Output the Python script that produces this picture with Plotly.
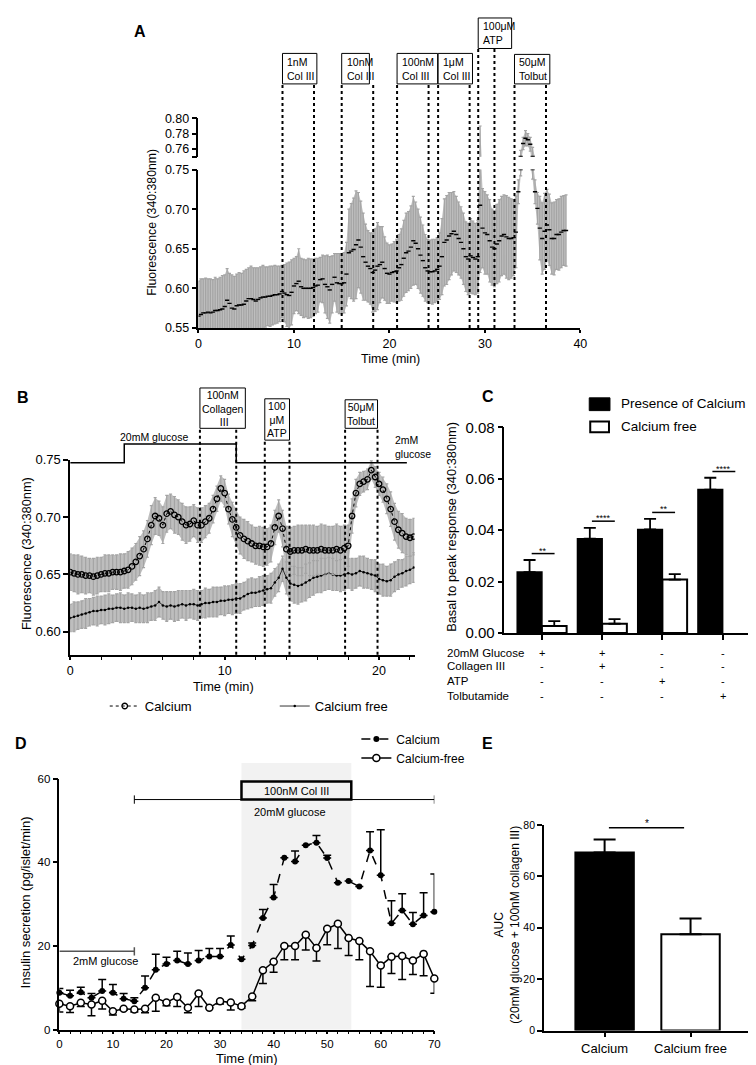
import numpy as np
import plotly.graph_objects as go

W, H = 756, 1065
FONT = "Liberation Sans, Arial, sans-serif"


def fx(px):
    return px / W


def fy(py):
    return 1 - py / H


# ---------------- data ----------------
# A: Fura-2 ratio, collagen III dose series (one reading every 0.25 min)
a_step = 0.25
a_mean = [
    0.565, 0.567, 0.569, 0.569, 0.570, 0.569, 0.570, 0.572,
    0.572, 0.573, 0.574, 0.577, 0.585, 0.581, 0.575, 0.574,
    0.578, 0.579, 0.579, 0.580, 0.584, 0.587, 0.587, 0.586,
    0.584, 0.586, 0.588, 0.589, 0.589, 0.590, 0.590, 0.591,
    0.592, 0.592, 0.593, 0.596, 0.594, 0.592, 0.591, 0.595,
    0.603, 0.606, 0.609, 0.602, 0.600, 0.600, 0.600, 0.600,
    0.601, 0.603, 0.604, 0.611, 0.612, 0.605, 0.602, 0.598,
    0.605, 0.614, 0.607, 0.606, 0.606, 0.607, 0.618, 0.645,
    0.647, 0.649, 0.655, 0.661, 0.652, 0.640, 0.633, 0.628,
    0.625, 0.620, 0.623, 0.628, 0.630, 0.633, 0.625, 0.619,
    0.618, 0.620, 0.621, 0.622, 0.626, 0.630, 0.638, 0.645,
    0.647, 0.652, 0.660, 0.657, 0.650, 0.642, 0.635, 0.626,
    0.622, 0.621, 0.621, 0.622, 0.624, 0.628, 0.640, 0.658,
    0.661, 0.666, 0.669, 0.672, 0.668, 0.663, 0.658, 0.650,
    0.640, 0.637, 0.641, 0.639, 0.637, 0.640, 0.705, 0.676,
    0.670, 0.668, 0.660, 0.652, 0.650, 0.656, 0.660, 0.666,
    0.668, 0.665, 0.663, 0.663, 0.664, 0.671, 0.722, 0.750,
    0.767, 0.774, 0.772, 0.766, 0.750, 0.722, 0.701, 0.676,
    0.663, 0.672, 0.680, 0.674, 0.663, 0.663, 0.668, 0.668,
    0.671, 0.673, 0.673,
]
a_err = [
    0.044, 0.045, 0.043, 0.044, 0.042, 0.043, 0.041, 0.042,
    0.040, 0.041, 0.042, 0.040, 0.040, 0.038, 0.042, 0.041,
    0.040, 0.041, 0.040, 0.042, 0.040, 0.039, 0.041, 0.040,
    0.042, 0.040, 0.039, 0.040, 0.038, 0.037, 0.038, 0.037,
    0.037, 0.036, 0.035, 0.033, 0.036, 0.040, 0.042, 0.041,
    0.035, 0.034, 0.041, 0.036, 0.037, 0.036, 0.038, 0.037,
    0.036, 0.035, 0.034, 0.028, 0.030, 0.036, 0.040, 0.042,
    0.036, 0.030, 0.037, 0.038, 0.038, 0.038, 0.040, 0.055,
    0.060, 0.065, 0.068, 0.060, 0.058, 0.055, 0.048, 0.045,
    0.045, 0.050, 0.052, 0.055, 0.048, 0.045, 0.040, 0.038,
    0.037, 0.036, 0.038, 0.040, 0.042, 0.045, 0.048, 0.050,
    0.050, 0.052, 0.056, 0.052, 0.050, 0.048, 0.045, 0.042,
    0.040, 0.040, 0.041, 0.040, 0.040, 0.042, 0.048, 0.055,
    0.056, 0.055, 0.052, 0.050, 0.048, 0.046, 0.045, 0.045,
    0.044, 0.045, 0.047, 0.046, 0.045, 0.046, 0.085, 0.050,
    0.052, 0.050, 0.052, 0.048, 0.048, 0.050, 0.052, 0.050,
    0.050, 0.052, 0.052, 0.050, 0.048, 0.045, 0.015, 0.008,
    0.008, 0.010, 0.008, 0.009, 0.012, 0.015, 0.020, 0.040,
    0.045, 0.048, 0.045, 0.045, 0.045, 0.046, 0.044, 0.045,
    0.045, 0.044, 0.045,
]
a_time = np.arange(len(a_mean)) * a_step
a_event_names = ["1nM<br>Col III", "10nM<br>Col III", "100nM<br>Col III",
                 "1μM<br>Col III", "100μM<br>ATP", "50μM<br>Tolbut"]
a_event_on = [8.8, 15.0, 20.8, 25.1, 29.3, 33.1]
a_event_off = [12.1, 18.3, 24.1, 28.4, 31.0, 36.4]

# B: calcium vs calcium free (one reading every 0.25 min)
b_step = 0.25
b_ca_mean = [
    0.652, 0.651, 0.650, 0.650, 0.649, 0.649, 0.648, 0.649,
    0.650, 0.651, 0.651, 0.652, 0.652, 0.652, 0.653, 0.654,
    0.657, 0.661, 0.666, 0.672, 0.681, 0.693, 0.701, 0.699,
    0.693, 0.703, 0.705, 0.702, 0.700, 0.696, 0.693, 0.694,
    0.697, 0.693, 0.693, 0.696, 0.699, 0.707, 0.716, 0.725,
    0.721, 0.707, 0.698, 0.691, 0.684, 0.681, 0.679, 0.677,
    0.675, 0.675, 0.674, 0.674, 0.677, 0.691, 0.701, 0.690,
    0.672, 0.670, 0.671, 0.671, 0.671, 0.672, 0.671, 0.671,
    0.671, 0.672, 0.671, 0.671, 0.671, 0.672, 0.671, 0.673,
    0.675, 0.701, 0.721, 0.729, 0.731, 0.733, 0.741, 0.735,
    0.729, 0.724, 0.716, 0.707, 0.696, 0.689, 0.686, 0.683,
    0.682, 0.683,
]
b_ca_err = [
    0.016, 0.016, 0.017, 0.016, 0.016, 0.015, 0.016, 0.016,
    0.015, 0.016, 0.016, 0.015, 0.015, 0.016, 0.015, 0.016,
    0.016, 0.016, 0.017, 0.016, 0.016, 0.017, 0.016, 0.015,
    0.016, 0.016, 0.015, 0.016, 0.015, 0.016, 0.016, 0.015,
    0.014, 0.015, 0.015, 0.014, 0.013, 0.012, 0.011, 0.011,
    0.012, 0.013, 0.015, 0.016, 0.016, 0.017, 0.017, 0.016,
    0.016, 0.017, 0.017, 0.016, 0.016, 0.015, 0.014, 0.016,
    0.020, 0.021, 0.021, 0.022, 0.022, 0.021, 0.022, 0.022,
    0.021, 0.022, 0.022, 0.021, 0.021, 0.022, 0.021, 0.020,
    0.018, 0.015, 0.012, 0.010, 0.009, 0.009, 0.008, 0.009,
    0.010, 0.011, 0.013, 0.015, 0.016, 0.016, 0.017, 0.016,
    0.016, 0.016,
]
b_free_mean = [
    0.612, 0.613, 0.614, 0.615, 0.616, 0.617, 0.618, 0.618,
    0.619, 0.619, 0.620, 0.620, 0.621, 0.621, 0.620, 0.621,
    0.621, 0.620, 0.621, 0.620, 0.621, 0.622, 0.623, 0.626,
    0.623, 0.622, 0.623, 0.622, 0.623, 0.624, 0.623, 0.624,
    0.624, 0.623, 0.624, 0.625, 0.625, 0.626, 0.626, 0.627,
    0.627, 0.628, 0.628, 0.629, 0.629, 0.631, 0.633, 0.634,
    0.634, 0.635, 0.636, 0.637, 0.638, 0.643, 0.647, 0.655,
    0.647, 0.642, 0.641, 0.640, 0.641, 0.643, 0.645, 0.647,
    0.648, 0.649, 0.650, 0.651, 0.650, 0.649, 0.649, 0.650,
    0.651, 0.650, 0.651, 0.653, 0.652, 0.651, 0.650, 0.649,
    0.646, 0.645, 0.644, 0.645, 0.648, 0.650, 0.651, 0.653,
    0.654, 0.656,
]
b_free_err = [
    0.012, 0.013, 0.012, 0.012, 0.013, 0.012, 0.012, 0.013,
    0.012, 0.013, 0.013, 0.012, 0.012, 0.013, 0.012, 0.013,
    0.012, 0.012, 0.013, 0.012, 0.013, 0.012, 0.013, 0.013,
    0.012, 0.013, 0.012, 0.013, 0.013, 0.012, 0.013, 0.012,
    0.013, 0.013, 0.012, 0.013, 0.012, 0.013, 0.013, 0.012,
    0.013, 0.012, 0.013, 0.013, 0.013, 0.012, 0.013, 0.013,
    0.012, 0.013, 0.013, 0.012, 0.013, 0.012, 0.012, 0.011,
    0.014, 0.015, 0.016, 0.016, 0.015, 0.016, 0.015, 0.015,
    0.014, 0.015, 0.014, 0.014, 0.014, 0.013, 0.014, 0.014,
    0.013, 0.014, 0.013, 0.013, 0.014, 0.013, 0.013, 0.014,
    0.013, 0.014, 0.013, 0.014, 0.013, 0.013, 0.012, 0.013,
    0.012, 0.013,
]
b_time = np.arange(len(b_ca_mean)) * b_step
b_glucose_t = [0, 3.5, 10.75, 21.8]
b_event_names = ["100nM<br>Collagen<br> III", "100<br>μM<br>ATP", "50μM<br>Tolbut"]
b_event_on = [8.4, 12.6, 17.8]
b_event_off = [10.75, 14.2, 19.9]

# C: basal to peak response
c_groups = ["Glucose", "Glucose + Collagen III", "ATP", "Tolbutamide"]
c_ca_mean = [0.0237, 0.0367, 0.0403, 0.0558]
c_ca_err = [0.0047, 0.0042, 0.0041, 0.0046]
c_free_mean = [0.0027, 0.0036, 0.0208, None]
c_free_err = [0.0019, 0.0018, 0.0021, None]
c_sig = ["**", "****", "**", "****"]
c_sig_y = [0.0309, 0.0435, 0.0469, 0.0628]
c_rows = ["20mM Glucose", "Collagen III", "ATP", "Tolbutamide"]
c_table = [["+", "+", "-", "-"],
           ["-", "+", "-", "-"],
           ["-", "-", "+", "-"],
           ["-", "-", "-", "+"]]

# D: insulin secretion
d_time = list(range(0, 71, 2))
d_ca_mean = [8.8, 8.1, 8.9, 7.6, 9.2, 8.8, 7.4, 6.8, 10.0, 14.3, 15.7, 16.5,
             15.7, 16.5, 17.5, 17.5, 20.2, 16.8, 20.1, 26.7, 31.6, 41.1, 40.2, 44.1,
             44.7, 41.0, 35.1, 35.5, 34.2, 42.8, 36.9, 25.4, 28.5, 25.2, 27.3, 28.2]
d_ca_err = [1.0, 1.3, 1.2, 1.0, 2.8, 2.0, 1.2, 0.8, 2.8, 3.7, 1.6, 2.2,
            2.6, 2.4, 1.9, 1.9, 2.2, 0.0, 0.6, 2.0, 3.1, 0.0, 2.5, 0.0,
            1.7, 0.7, 0.0, 0.0, 0.0, 4.5, 10.9, 5.4, 4.0, 2.8, 5.4, 9.0]
d_free_mean = [6.2, 5.6, 6.4, 6.0, 6.9, 4.4, 5.0, 4.8, 5.0, 7.6, 6.5, 7.8,
               5.2, 8.6, 5.2, 6.8, 6.5, 5.6, 7.9, 14.2, 16.2, 20.0, 20.0, 22.7,
               19.5, 24.1, 25.3, 21.9, 21.2, 18.7, 15.3, 17.4, 17.6, 16.5, 18.1, 12.2]
d_free_err = [2.0, 1.5, 0.9, 2.7, 2.0, 0.9, 0.4, 0.6, 1.0, 3.2, 0.8, 2.3,
              1.2, 3.1, 0.0, 0.7, 1.8, 0.5, 1.0, 3.2, 2.5, 3.3, 3.3, 3.7,
              3.1, 3.8, 5.9, 4.2, 4.5, 8.4, 5.2, 4.0, 5.6, 3.3, 5.2, 3.5]
d_col_window = [34, 54.5]
d_glc20_window = [14, 70]
d_glc2_window = [0, 14]

# E: AUC
e_groups = ["Calcium", "Calcium free"]
e_mean = [69.3, 37.5]
e_err = [5.0, 6.1]

# ---------------- figure ----------------
fig = go.Figure()
BAND = "#bebebe"
ERRC = "#a4a4a4"


def band(x, mean, err, xa, ya):
    m, e = np.array(mean, dtype=float), np.array(err, dtype=float)
    fig.add_trace(go.Scatter(x=x, y=m - e, mode="lines", line=dict(width=0),
                             xaxis=xa, yaxis=ya, showlegend=False, hoverinfo="skip"))
    fig.add_trace(go.Scatter(x=x, y=m + e, mode="lines", line=dict(width=0),
                             fill="tonexty", fillcolor=BAND,
                             xaxis=xa, yaxis=ya, showlegend=False, hoverinfo="skip"))


# A (drawn on both halves of the broken axis)
for yax in ["y", "y2"]:
    band(a_time, a_mean, a_err, "x", yax)
    fig.add_trace(go.Scatter(
        x=a_time, y=a_mean, mode="markers", xaxis="x", yaxis=yax,
        marker=dict(symbol="line-ew", size=3, color="black",
                    line=dict(width=1.4, color="black")),
        error_y=dict(type="data", array=a_err, color=ERRC, thickness=1.2, width=1.5),
        showlegend=False, hoverinfo="skip"))

# B
band(b_time, b_free_mean, b_free_err, "x3", "y3")
band(b_time, b_ca_mean, b_ca_err, "x3", "y3")
fig.add_trace(go.Scatter(
    x=b_time, y=b_free_mean, name="Calcium free", mode="lines+markers",
    xaxis="x3", yaxis="y3", legend="legend", legendrank=2,
    line=dict(color="black", width=0.8),
    marker=dict(symbol="circle", size=2.5, color="black"),
    error_y=dict(type="data", array=b_free_err, color=ERRC, thickness=1.2, width=1.5)))
fig.add_trace(go.Scatter(
    x=b_time, y=b_ca_mean, name="Calcium", mode="lines+markers",
    xaxis="x3", yaxis="y3", legend="legend", legendrank=1,
    line=dict(color="black", width=1, dash="dot"),
    marker=dict(symbol="circle-open", size=5.5, color="black", line=dict(width=1.3)),
    error_y=dict(type="data", array=b_ca_err, color=ERRC, thickness=1.2, width=1.5)))

# C
fig.add_trace(go.Bar(
    x=c_groups, y=c_ca_mean, xaxis="x4", yaxis="y4", width=0.41, offset=-0.41,
    marker=dict(color="black", line=dict(color="black", width=1.5)),
    error_y=dict(type="data", array=c_ca_err, arrayminus=[0] * 4, color="black",
                 thickness=1.8, width=6),
    showlegend=False))
fig.add_trace(go.Bar(
    x=c_groups, y=c_free_mean, xaxis="x4", yaxis="y4", width=0.41, offset=0,
    marker=dict(color="white", line=dict(color="black", width=2)),
    error_y=dict(type="data", array=c_free_err, arrayminus=[0] * 4, color="black",
                 thickness=1.8, width=6),
    showlegend=False))

# D
fig.add_trace(go.Scatter(
    x=d_time, y=d_ca_mean, name="Calcium", mode="lines+markers",
    xaxis="x5", yaxis="y5", legend="legend2", cliponaxis=False,
    line=dict(color="black", width=1.5, dash="dash"),
    marker=dict(symbol="circle", size=6, color="black"),
    error_y=dict(type="data", array=d_ca_err, arrayminus=[0] * len(d_ca_err),
                 color="black", thickness=1.5, width=4)))
fig.add_trace(go.Scatter(
    x=d_time, y=d_free_mean, name="Calcium-free", mode="lines+markers",
    xaxis="x5", yaxis="y5", legend="legend2", cliponaxis=False,
    line=dict(color="black", width=1.5),
    marker=dict(symbol="circle", size=7, color="white", line=dict(width=1.5, color="black")),
    error_y=dict(type="data", array=[0] * len(d_free_err), arrayminus=d_free_err,
                 color="black", thickness=1.5, width=4)))

# E
fig.add_trace(go.Bar(
    x=e_groups, y=e_mean, xaxis="x6", yaxis="y6", width=0.68,
    marker=dict(color=["black", "white"], line=dict(color="black", width=2)),
    error_y=dict(type="data", array=e_err, arrayminus=[0, 0], color="black",
                 thickness=2, width=11),
    showlegend=False))

# ---------------- shapes ----------------
shapes = []
dot_line = dict(color="black", width=2, dash="dot")


def vline(xref, x, y0px, y1px):
    shapes.append(dict(type="line", xref=xref, yref="paper", x0=x, x1=x,
                       y0=fy(y0px), y1=fy(y1px), line=dot_line))


def note(text, x, y, size, xref="paper", yref="paper", xanchor="center",
         yanchor="middle", angle=0, align="center", **kw):
    fig.add_annotation(xref=xref, yref=yref, x=x, y=y, text=text, textangle=angle,
                       xanchor=xanchor, yanchor=yanchor, align=align, showarrow=False,
                       font=dict(family=FONT, size=size, color="black"), **kw)


# A boxes
a_box_w = [3.6, 2.9, 4.25, 3.6, 3.5, 3.7]
a_box_top = [37, 37, 37, 37, 1, 38]
a_box_bot = [68, 68, 68, 68, 32, 68]
for name, on, off, w, top, bot in zip(a_event_names, a_event_on, a_event_off,
                                      a_box_w, a_box_top, a_box_bot):
    vline("x", on, 316, bot)
    vline("x", off, 316, bot)
    shapes.append(dict(type="rect", xref="x", yref="paper", x0=on, x1=on + w,
                       y0=fy(bot), y1=fy(top), line=dict(color="black", width=1),
                       fillcolor="white"))
    note(name, on + 0.3, fy((top + bot) / 2), 10.5, xref="x", xanchor="left", align="left")

# B glucose trace and boxes
y_low, y_high = fy(453), fy(434)
g = b_glucose_t
shapes.append(dict(type="path", xref="x3", yref="paper",
                   path=f"M {g[0]},{y_low} H {g[1]} V {y_high} H {g[2]} V {y_low} H {g[3]}",
                   line=dict(color="black", width=1.5)))
b_box_w = [2.94, 1.6, 2.1]
b_box_top = [377, 388, 389]
b_box_bot = [418, 430, 418]
for name, on, off, w, top, bot in zip(b_event_names, b_event_on, b_event_off,
                                      b_box_w, b_box_top, b_box_bot):
    vline("x3", on, 648, bot)
    vline("x3", off, 648, bot)
    shapes.append(dict(type="rect", xref="x3", yref="paper", x0=on, x1=on + w,
                       y0=fy(bot), y1=fy(top), line=dict(color="black", width=1),
                       fillcolor="white"))
    note(name, on + w / 2, fy((top + bot) / 2), 10.5, xref="x3")
note("20mM glucose", 5.4, fy(427), 10.5, xref="x3")
note("2mM<br>glucose", 20.9, fy(437), 10.5, xref="x3", xanchor="left", align="left")

# C significance and legend
for i, (s, sy) in enumerate(zip(c_sig, c_sig_y)):
    shapes.append(dict(type="line", xref="x4", yref="y4", x0=i - 0.17, x1=i + 0.21,
                       y0=sy, y1=sy, line=dict(color="black", width=1.5)))
    note(s, i + 0.02, sy, 9, xref="x4", yref="y4", yanchor="bottom", yshift=-4)
shapes.append(dict(type="rect", xref="paper", yref="paper", x0=fx(586), x1=fx(607),
                   y0=fy(400), y1=fy(387), fillcolor="black", line=dict(color="black", width=1)))
shapes.append(dict(type="rect", xref="paper", yref="paper", x0=fx(587), x1=fx(606),
                   y0=fy(422), y1=fy(411), fillcolor="white", line=dict(color="black", width=2)))
note("Presence of Calcium", fx(616), fy(393), 13.5, xanchor="left")
note("Calcium free", fx(616), fy(416), 13.5, xanchor="left")
c_row_y = [646, 660, 675, 690]
for row, marks, ry in zip(c_rows, c_table, c_row_y):
    note(row, fx(440), fy(ry), 11.5, xanchor="left")
    for i, m in enumerate(marks):
        note(m, i, fy(ry), 11, xref="x4")

# D annotations
shapes.append(dict(type="rect", xref="x5", yref="paper", x0=d_col_window[0],
                   x1=d_col_window[1], y0=fy(1029), y1=fy(758), fillcolor="#f2f2f2",
                   line=dict(width=0), layer="below"))
shapes.append(dict(type="line", xref="x5", yref="y5", x0=d_glc20_window[0],
                   x1=d_glc20_window[1], y0=55, y1=55, line=dict(color="black", width=1)))
for xe in d_glc20_window:
    shapes.append(dict(type="line", xref="x5", yref="y5", x0=xe, x1=xe, y0=54, y1=56,
                       line=dict(color="black", width=1)))
shapes.append(dict(type="rect", xref="x5", yref="y5", x0=d_col_window[0],
                   x1=d_col_window[1], y0=55, y1=59.3, fillcolor="#f2f2f2",
                   line=dict(color="black", width=2.5)))
shapes.append(dict(type="line", xref="x5", yref="y5", x0=d_glc2_window[0],
                   x1=d_glc2_window[1], y0=18.7, y1=18.7, line=dict(color="#555555", width=1.5)))
shapes.append(dict(type="line", xref="x5", yref="y5", x0=d_glc2_window[1],
                   x1=d_glc2_window[1], y0=17.7, y1=19.7, line=dict(color="#555555", width=1.5)))
note("100nM Col III", sum(d_col_window) / 2, 57.15, 11, xref="x5", yref="y5")
note("20mM glucose", 43, 52, 11, xref="x5", yref="y5")
note("2mM glucose", 8.6, 16.3, 11, xref="x5", yref="y5")

# E significance
shapes.append(dict(type="line", xref="x6", yref="y6", x0=0.05, x1=0.925, y0=78.9, y1=78.9,
                   line=dict(color="black", width=1.5)))
note("*", 0.49, 78.9, 10, xref="x6", yref="y6", yanchor="bottom", yshift=-3)

# ---------------- titles / letters ----------------
for letter, lx, ly in [("A", 131, 15), ("B", 12, 387), ("C", 483, 386),
                       ("D", 10, 738), ("E", 483, 738)]:
    note(f"<b>{letter}</b>", fx(lx), fy(ly), 16)

note("Fluorescence (340:380nm)", fx(143), fy(209), 12.3, angle=-90)
note("Time (min)", fx(385), fy(348), 12.5)
note("Fluorescence (340:380nm)", fx(15), fy(545), 12.8, angle=-90)
note("Time (min)", fx(215), fy(680), 12.8)
note("Basal to peak response (340:380nm)", fx(447), fy(518), 12.8, angle=-90)
note("Insulin secretion (pg/islet/min)", fx(15), fy(900), 13, angle=-90)
note("Time (min)", fx(239), fy(1058), 13)
note("AUC<br>(20mM glucose + 100nM collagen III)", fx(503), fy(922), 12, angle=-90)

# ---------------- axes ----------------
axis = dict(showline=True, linecolor="black", linewidth=1.5, ticks="outside", ticklen=5,
            tickwidth=1.5, tickcolor="black", showgrid=False, zeroline=False)


def tf(size):
    return dict(family=FONT, size=size, color="black")


fig.update_layout(
    width=W, height=H, autosize=False, margin=dict(l=0, r=0, t=0, b=0),
    paper_bgcolor="white", plot_bgcolor="rgba(0,0,0,0)",
    font=dict(family=FONT, color="black"), barmode="overlay", hovermode=False,
    shapes=shapes,
    xaxis=dict(axis, domain=[fx(190), fx(577)], range=[0, 40], dtick=10, anchor="y",
               tickfont=tf(12.5), ticklen=3),
    yaxis=dict(axis, domain=[fy(316), fy(155)], range=[0.55, 0.75],
               tickvals=[0.55, 0.60, 0.65, 0.70, 0.75], tickformat=".2f", anchor="x",
               tickfont=tf(12.5)),
    yaxis2=dict(axis, domain=[fy(142), fy(103)], range=[0.7497, 0.80],
                tickvals=[0.7497, 0.76, 0.78, 0.80], ticktext=["", "0.76", "0.78", "0.80"],
                anchor="x", tickfont=tf(12.5)),
    xaxis3=dict(axis, domain=[fx(60), fx(409)], range=[0, 22.3], dtick=10, anchor="y3",
                tickfont=tf(12.5), ticklen=4,
                minor=dict(dtick=2, ticks="outside", ticklen=4, tickwidth=1.2,
                           tickcolor="black")),
    yaxis3=dict(axis, domain=[fy(648), fy(450)], range=[0.58, 0.75],
                tickvals=[0.60, 0.65, 0.70, 0.75], tickformat=".2f", anchor="x3",
                tickfont=tf(13)),
    xaxis4=dict(axis, domain=[fx(500), 1], range=[-0.623, 3.57], anchor="y4",
                type="category", showticklabels=False),
    yaxis4=dict(axis, domain=[fy(626), fy(417)], range=[0, 0.08], dtick=0.02,
                tickformat=".2f", anchor="x4", tickfont=tf(15)),
    xaxis5=dict(axis, domain=[fx(49), fx(429)], range=[0, 70], dtick=10, anchor="y5",
                tickfont=tf(11.5), ticklen=3,
                minor=dict(dtick=2, ticks="outside", ticklen=3, tickwidth=1.2,
                           tickcolor="black")),
    yaxis5=dict(axis, domain=[fy(1029), fy(774)], range=[0, 60], dtick=20, anchor="x5",
                tickfont=tf(11.5)),
    xaxis6=dict(axis, domain=[fx(540), fx(747)], range=[-0.707, 1.67], anchor="y6",
                type="category", tickfont=tf(13)),
    yaxis6=dict(axis, domain=[fy(1030), fy(821)], range=[0, 80], dtick=20, anchor="x6",
                tickfont=tf(10.5)),
    legend=dict(orientation="h", x=fx(95), y=fy(685), xanchor="left", yanchor="top",
                font=tf(13), bgcolor="rgba(0,0,0,0)", entrywidth=125,
                entrywidthmode="pixels", traceorder="normal"),
    legend2=dict(x=fx(350), y=fy(719), xanchor="left", yanchor="top", font=tf(12),
                 bgcolor="rgba(0,0,0,0)", tracegroupgap=0),
)

fig.write_html("out.html")
